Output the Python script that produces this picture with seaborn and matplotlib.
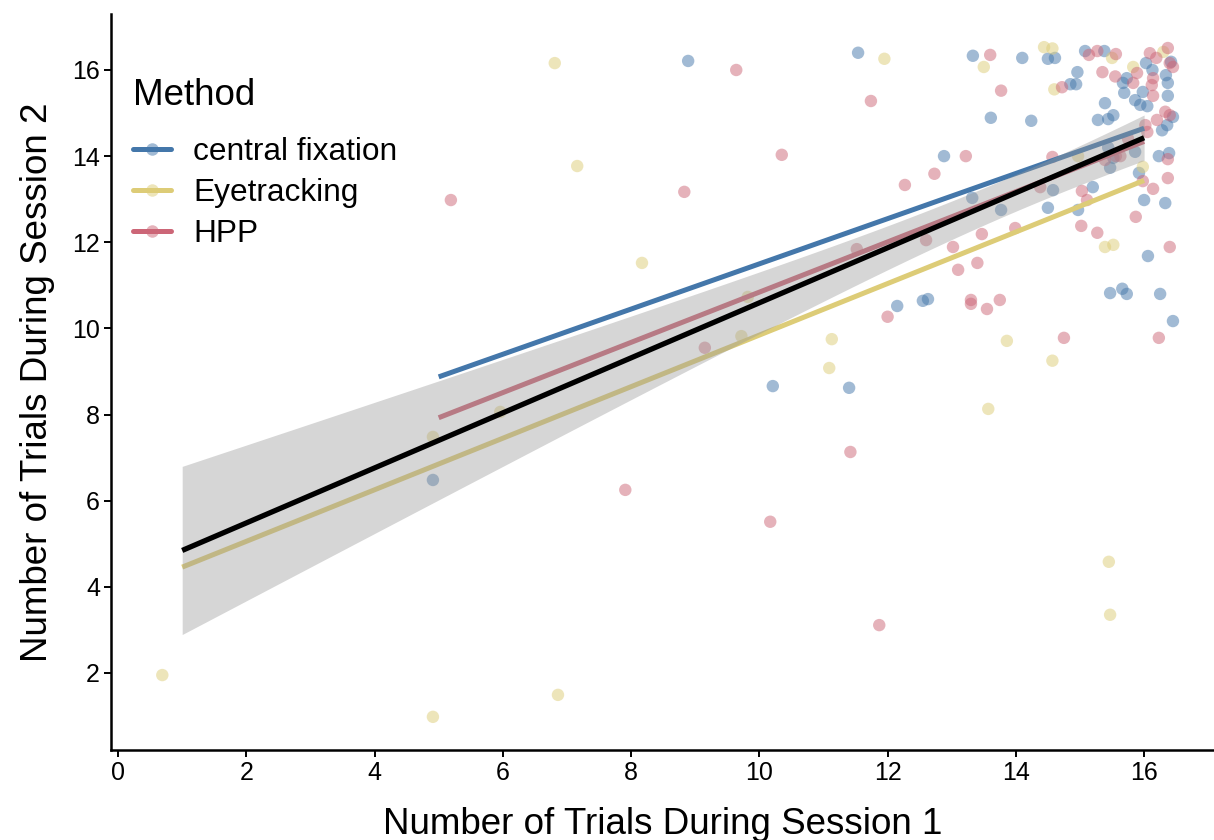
import numpy as np
import pandas as pd
import matplotlib
matplotlib.use("Agg")
import matplotlib.pyplot as plt
import seaborn as sns
from matplotlib.lines import Line2D
from matplotlib.colors import to_rgba

methods = ["central fixation", "Eyetracking", "HPP"]
colors = ["#4477AA", "#DDCC77", "#CC6677"]

# jittered positions as displayed (Session 1, Session 2)
cf_x = [4.91, 8.89, 11.54, 10.21, 11.40, 12.15, 12.55, 12.63, 13.33, 13.61, 12.88, 13.32,
        13.77, 14.10, 14.50, 14.61, 15.08, 15.38, 14.96, 14.85, 14.94, 14.24, 15.39, 15.28,
        15.44, 15.52, 15.73, 15.67, 15.69, 15.86, 15.98, 15.94, 16.05, 16.03, 16.13, 16.42,
        16.37, 16.37, 16.34, 16.45, 16.36, 16.28, 15.86, 15.44, 15.52, 15.47, 16.23, 16.39,
        15.92, 16.00, 16.33, 15.20, 14.58, 14.50, 14.97, 16.06, 15.47, 15.66, 15.73, 16.25,
        16.45]
cf_y = [6.48, 16.21, 16.40, 8.66, 8.62, 10.52, 10.64, 10.68, 16.33, 14.89, 14.00, 13.03,
        12.75, 16.28, 16.26, 16.28, 16.44, 16.44, 15.95, 15.67, 15.67, 14.82, 15.23, 14.84,
        14.86, 14.95, 15.81, 15.70, 15.47, 15.30, 15.49, 15.19, 15.16, 16.16, 16.00, 16.19,
        15.70, 15.40, 15.88, 14.91, 14.72, 14.60, 14.10, 14.20, 13.96, 13.73, 14.00, 14.07,
        13.61, 12.98, 12.91, 13.28, 13.21, 12.80, 12.75, 11.68, 10.82, 10.92, 10.80, 10.80,
        10.17]

et_x = [0.69, 4.91, 4.91, 5.96, 6.86, 6.81, 7.16, 8.17, 9.82, 9.72, 11.13, 11.09, 11.95,
        13.86, 13.57, 14.57, 15.45, 15.47, 13.50, 14.44, 14.57, 14.60, 15.39, 15.52, 15.50,
        15.83, 16.30, 14.97, 15.98]
et_y = [1.95, 0.98, 7.48, 8.06, 1.49, 16.16, 13.77, 11.52, 10.73, 9.82, 9.75, 9.08, 16.26,
        9.71, 8.13, 9.25, 4.58, 3.35, 16.07, 16.53, 16.50, 15.55, 11.89, 11.94, 16.28,
        16.07, 16.42, 14.00, 13.75]

hpp_x = [5.19, 7.91, 8.83, 9.64, 10.17, 11.74, 10.35, 13.60, 13.77, 13.22, 12.73, 12.27,
         9.15, 11.42, 11.87, 11.52, 12.60, 12.00, 13.02, 13.47, 13.10, 13.40, 13.30, 13.30,
         13.55, 13.75, 13.99, 15.02, 15.27, 15.87, 16.40, 14.75, 16.23, 15.03, 15.11, 16.14,
         16.37, 16.37, 15.98, 15.56, 15.39, 14.72, 15.14, 15.27, 15.56, 15.35, 15.55, 15.89,
         15.83, 16.09, 16.37, 16.19, 16.40, 16.45, 16.14, 16.12, 16.14, 16.33, 16.20, 16.40,
         16.02, 16.05, 15.75, 15.63, 14.57, 14.38]
hpp_y = [12.98, 6.25, 13.17, 16.00, 5.51, 15.28, 14.03, 16.35, 15.52, 14.00, 13.59, 13.33,
         9.55, 7.13, 3.11, 11.84, 12.05, 10.27, 11.89, 12.19, 11.36, 11.52, 10.66, 10.57,
         10.45, 10.66, 12.33, 12.38, 12.22, 12.59, 11.89, 9.78, 9.78, 13.19, 12.98, 13.24,
         13.49, 13.93, 13.42, 14.00, 13.91, 15.60, 16.35, 16.44, 16.37, 15.95, 15.85, 15.93,
         15.70, 16.39, 16.51, 16.28, 16.16, 16.07, 15.81, 15.65, 15.40, 15.03, 14.84, 14.95,
         14.72, 14.56, 14.40, 14.00, 13.98, 13.28]

xticks = [0, 2, 4, 6, 8, 10, 12, 14, 16]
yticks = [2, 4, 6, 8, 10, 12, 14, 16]

frames = []
for m, xs, ys in zip(methods, [cf_x, et_x, hpp_x], [cf_y, et_y, hpp_y]):
    frames.append(pd.DataFrame({"s1": xs, "s2": ys, "Method": m}))
df = pd.concat(frames, ignore_index=True)
# underlying (un-jittered) integer trial counts used for the fits
df["s1_fit"] = np.clip(np.round(df["s1"]), 1, 16)
df["s2_fit"] = np.clip(np.round(df["s2"]), 0, 16)

sns.set_style("ticks")
plt.rcParams["font.family"] = ["Liberation Sans", "DejaVu Sans"]
plt.rcParams["text.color"] = "black"
plt.rcParams["axes.labelcolor"] = "black"

fig = plt.figure(figsize=(12.14, 8.4), dpi=100)
ax = fig.add_axes([111 / 1214, 90 / 840, 1103 / 1214, 736 / 840])

sns.scatterplot(data=df, x="s1", y="s2", hue="Method", hue_order=methods,
                palette=colors, alpha=0.5, s=80, linewidth=0, legend=False,
                ax=ax, zorder=1)

for m, c in zip(methods, colors):
    sns.regplot(data=df[df["Method"] == m], x="s1_fit", y="s2_fit", scatter=False,
                ci=None, color=c, truncate=True, ax=ax,
                line_kws=dict(lw=3.6, zorder=2, solid_capstyle="butt"))

# overall fit with analytic 95% confidence band
xf = df["s1_fit"].to_numpy(float)
yf = df["s2_fit"].to_numpy(float)
n = len(xf)
b1, b0 = np.polyfit(xf, yf, 1)
resid = yf - (b0 + b1 * xf)
s = np.sqrt(np.sum(resid ** 2) / (n - 2))
sxx = np.sum((xf - xf.mean()) ** 2)
grid = np.linspace(xf.min(), xf.max(), 100)
se = s * np.sqrt(1 / n + (grid - xf.mean()) ** 2 / sxx)
tcrit = 1.9716
ax.fill_between(grid, b0 + b1 * grid - tcrit * se, b0 + b1 * grid + tcrit * se,
                color="#999999", alpha=0.4, linewidth=0, zorder=3)
sns.regplot(data=df, x="s1_fit", y="s2_fit", scatter=False, ci=None,
            color="black", truncate=True, ax=ax,
            line_kws=dict(lw=3.8, zorder=4, solid_capstyle="butt"))

ax.set_xlim(-0.11, 17.09)
ax.set_ylim(0.21, 17.3)
ax.set_xticks(xticks)
ax.set_yticks(yticks)
ax.tick_params(axis="both", labelsize=18, length=5, width=1.4, color="black",
               labelcolor="black", direction="out", pad=3)
for sp in ["left", "bottom"]:
    ax.spines[sp].set_linewidth(1.8)
    ax.spines[sp].set_color("black")
sns.despine(ax=ax)

ax.set_xlabel("Number of Trials During Session 1", fontsize=26.5, labelpad=16,
              color="black")
ax.set_ylabel("Number of Trials During Session 2", fontsize=26.5, labelpad=12,
              color="black")

handles = [Line2D([0], [0], color=c, lw=3.6, marker="o", markersize=9,
                  markerfacecolor=to_rgba(c, 0.5), markeredgewidth=0)
           for c in colors]
leg = ax.legend(handles, methods, title="Method", loc="upper left",
                bbox_to_anchor=(22 / 1103, 1 - 64 / 736), frameon=False,
                fontsize=22.8, title_fontsize=26.5, alignment="left",
                borderaxespad=0, borderpad=0, handlelength=1.2,
                handletextpad=0.7, labelspacing=0.36)
leg._legend_box.sep = 17
for t in leg.get_texts():
    t.set_color("black")
leg.get_title().set_color("black")

fig.savefig("out.png", dpi=100)
